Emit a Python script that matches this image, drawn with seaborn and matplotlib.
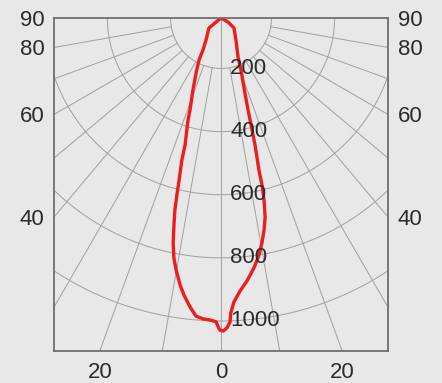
import numpy as np
import matplotlib
matplotlib.use('Agg')
import matplotlib.pyplot as plt
import seaborn as sns

# light distribution curve: angle from nadir (deg, + = right) and intensity (cd)
ANGLE = [-90, -50.2, -34.3, -29.4, -27.6, -24.4, -21.3, -18.6, -17.9, -15.8,
         -15.4, -14.5, -14.0, -13.5, -12.8, -12.0, -11.1, -10.1, -8.7, -7.6,
         -6.1, -4.8, -3.4, -1.9, -0.9, -0.6, -0.2, 0.4, 1.1, 1.7,
         1.9, 2.6, 4.0, 5.6, 7.5, 9.1, 10.3, 11.5, 12.5, 13.3,
         13.8, 14.0, 15.0, 15.5, 16.4, 17.7, 21.0, 23.6, 34.3, 52.4,
         60.3, 90]
CD = [40, 90, 124, 156, 190, 231, 285, 348, 380, 458,
      507, 570, 618, 666, 713, 769, 815, 851, 896, 926,
      961, 988, 995, 998, 1003, 1016, 1029, 1032, 1022, 1004,
      975, 941, 907, 878, 839, 801, 765, 725, 686, 633,
      585, 537, 457, 408, 344, 289, 217, 175, 124, 92,
      66, 40]

RINGS = [200, 400, 600, 800, 1000]
SPOKES = list(range(-80, 90, 10))
SIDE_ANGLES = [90, 80, 60, 40]
BOTTOM_ANGLES = [-20, 0, 20]

BG = '#e8e8e8'
GRID = '#a4a4a4'
TXT = '#2b2b2b'
RED = '#ee1d1d'

sns.set_theme(style='white')
plt.rcParams['font.family'] = ['Liberation Sans', 'DejaVu Sans']

W, H = 442, 383
CX, CY = 221, 18          # pole position in pixels (from top-left)
BOX_L, BOX_R, BOX_B = 54, 388, 351
R_PX = 380                # radius of the polar axes in pixels
R0 = 40                   # intensity at the pole
RMAX = R0 + R_PX / 0.3156

fig = plt.figure(figsize=(W / 100, H / 100), dpi=100, facecolor=BG)

ax = fig.add_axes([(CX - R_PX) / W, (H - CY - R_PX) / H, 2 * R_PX / W, 2 * R_PX / H],
                  projection='polar')
ax.set_theta_zero_location('S')
ax.patch.set_visible(False)
ax.spines['polar'].set_visible(False)
ax.set_xticks([])
ax.set_yticks([])
ax.grid(False)

frame = fig.add_axes([BOX_L / W, (H - BOX_B) / H, (BOX_R - BOX_L) / W, (BOX_B - CY) / H])
frame.patch.set_visible(False)
half_w = (BOX_R - BOX_L) / 2
depth = BOX_B - CY
frame.set_xlim(-half_w, half_w)
frame.set_ylim(-depth, 0)

# polar grid
ring_theta = np.linspace(-np.pi, np.pi, 721)
for r in RINGS:
    ax.plot(ring_theta, np.full_like(ring_theta, r), color=GRID, lw=0.75)
for a in SPOKES:
    start = R0 if a == 0 else RINGS[0]
    ax.plot([np.deg2rad(a)] * 2, [start, RMAX], color=GRID, lw=0.75)

sns.lineplot(x=np.deg2rad(ANGLE), y=CD, sort=False, estimator=None, ax=ax,
             color=RED, lw=2.4)
ax.set_xlabel('')
ax.set_ylabel('')
ax.set_ylim(R0, RMAX)

clip = plt.Rectangle((0, 0), 1, 1, transform=frame.transAxes)
for line in ax.lines:
    line.set_clip_path(clip)

for r in RINGS:
    ax.annotate(str(r), xy=(0, r), xytext=(6.5, 0), textcoords='offset points',
                ha='left', va='center', fontsize=16, color=TXT)

# angle labels where the spokes meet the frame
frame.set_yticks([-half_w / np.tan(np.deg2rad(a)) for a in SIDE_ANGLES])
frame.set_yticklabels([str(a) for a in SIDE_ANGLES])
frame.set_xticks([depth * np.tan(np.deg2rad(a)) for a in BOTTOM_ANGLES])
frame.set_xticklabels([str(abs(a)) for a in BOTTOM_ANGLES])
frame.tick_params(axis='y', length=0, pad=7, labelsize=16, labelcolor=TXT,
                  left=False, right=False, labelleft=True, labelright=True)
frame.tick_params(axis='x', length=0, pad=8, labelsize=16, labelcolor=TXT)
for s in frame.spines.values():
    s.set_color('#6f6f6f')
    s.set_linewidth(1.3)

fig.savefig('out.png', dpi=100, facecolor=BG)
